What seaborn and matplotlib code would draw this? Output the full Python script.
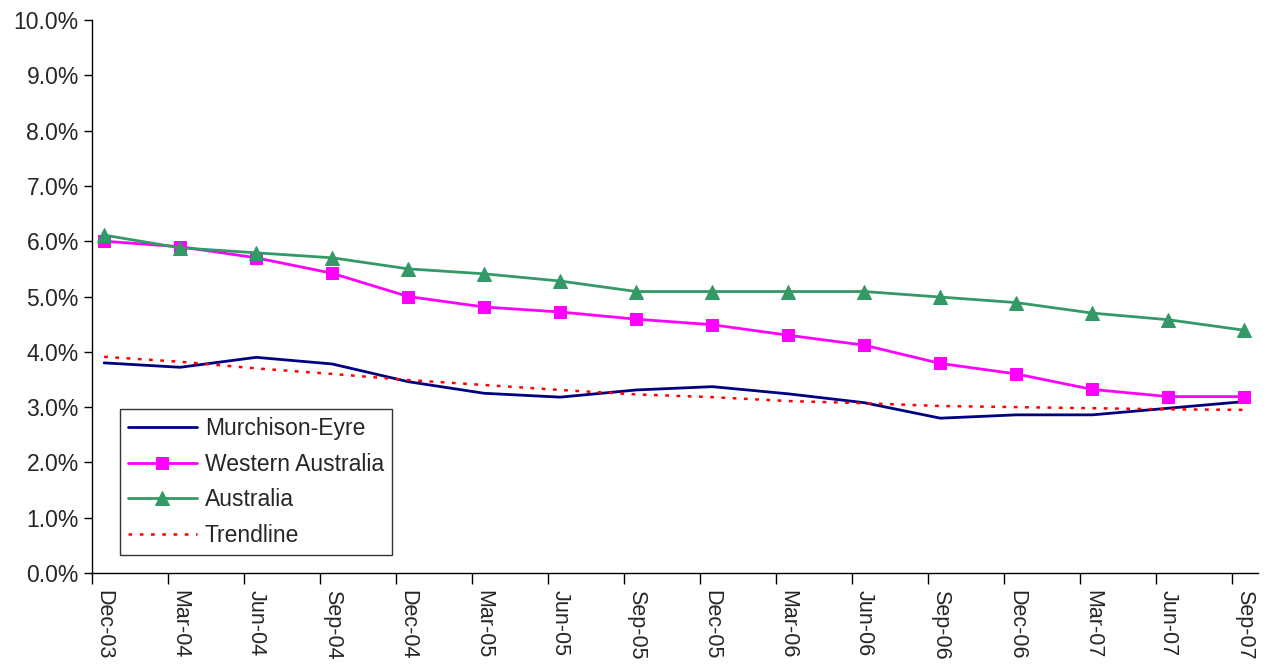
import numpy as np
import pandas as pd
import seaborn as sns
import matplotlib.pyplot as plt
from matplotlib.ticker import FuncFormatter

quarters = ['Dec-03', 'Mar-04', 'Jun-04', 'Sep-04', 'Dec-04', 'Mar-05', 'Jun-05', 'Sep-05',
            'Dec-05', 'Mar-06', 'Jun-06', 'Sep-06', 'Dec-06', 'Mar-07', 'Jun-07', 'Sep-07']
murchison = [3.8, 3.72, 3.9, 3.78, 3.46, 3.25, 3.18, 3.31, 3.37, 3.24, 3.08, 2.8, 2.86, 2.86, 2.98, 3.1]
western = [6.0, 5.9, 5.7, 5.42, 5.0, 4.81, 4.72, 4.59, 4.49, 4.3, 4.12, 3.79, 3.6, 3.32, 3.19, 3.19]
australia = [6.11, 5.88, 5.79, 5.7, 5.5, 5.41, 5.28, 5.09, 5.09, 5.09, 5.09, 4.99, 4.89, 4.7, 4.58, 4.39]
trend = [3.91, 3.82, 3.7, 3.6, 3.49, 3.4, 3.31, 3.23, 3.18, 3.11, 3.07, 3.02, 3.0, 2.98, 2.96, 2.95]

sns.set_style("ticks")
plt.rcParams['font.family'] = ['Liberation Sans', 'DejaVu Sans']

df = pd.DataFrame({'pos': np.arange(len(quarters)),
                   'Murchison-Eyre': murchison,
                   'Western Australia': western,
                   'Australia': australia,
                   'Trendline': trend})

fig = plt.figure(figsize=(12.72, 6.66), dpi=100)
ax = fig.add_axes([0.0723, 0.1396, 0.9167, 0.8304])

sns.lineplot(data=df, x='pos', y='Murchison-Eyre', ax=ax, color='#000080', linewidth=2,
             label='Murchison-Eyre')
sns.lineplot(data=df, x='pos', y='Western Australia', ax=ax, color='#FF00FF', linewidth=2,
             marker='s', markersize=9, markeredgecolor='#FF00FF', label='Western Australia')
sns.lineplot(data=df, x='pos', y='Australia', ax=ax, color='#339966', linewidth=2,
             marker='^', markersize=10, markeredgecolor='#339966', label='Australia')
sns.lineplot(data=df, x='pos', y='Trendline', ax=ax, color='#FF0000', linewidth=1.8,
             linestyle=(0, (1.5, 3)), label='Trendline')

ax.set_ylim(0, 10)
ax.set_yticks(np.arange(0, 11, 1))
ax.yaxis.set_major_formatter(FuncFormatter(lambda v, p: f'{v:.1f}%'))
ax.set_xlim(-0.16, 15.18)
ax.set_xticks(df['pos'])
ax.set_xticklabels(quarters, rotation=270, ha='center', va='top')
ax.set_xticks(df['pos'] - 0.16, minor=True)
ax.tick_params(axis='x', which='major', length=0, pad=12.5, labelsize=15.5)
ax.tick_params(axis='x', which='minor', length=8, width=1, color='black', direction='out')
ax.tick_params(axis='y', length=6, width=1, labelsize=16.5, color='black', direction='out')
ax.set_xlabel('')
ax.set_ylabel('')
for s in ['top', 'right']:
    ax.spines[s].set_visible(False)
for s in ['left', 'bottom']:
    ax.spines[s].set_color('black')
    ax.spines[s].set_linewidth(1)

leg = ax.legend(loc='lower left', bbox_to_anchor=(0.024, 0.033), fontsize=16.5,
                handlelength=3.0, handletextpad=0.35, frameon=True, fancybox=False,
                borderpad=0.35, labelspacing=0.55, borderaxespad=0)
leg.get_frame().set_edgecolor('black')
leg.get_frame().set_linewidth(1)

fig.savefig('out.png', dpi=100)
